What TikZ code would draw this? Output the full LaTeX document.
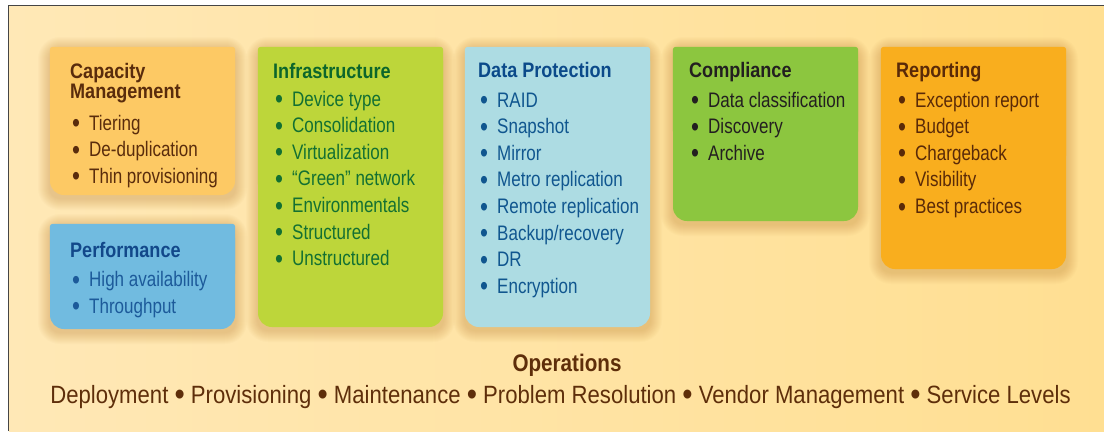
\documentclass[tikz,border=0pt]{standalone}
\usepackage{fontspec}
\usetikzlibrary{calc}
\newfontfamily\itemfont{Liberation Sans}[FakeStretch=0.81]
\newfontfamily\headfont{Liberation Sans}[FakeStretch=0.86]
\newfontfamily\opsfont{Liberation Sans}[FakeStretch=0.885]

% panel fills
\definecolor{capF}{HTML}{FDC964}
\definecolor{perfF}{HTML}{71BBE0}
\definecolor{infF}{HTML}{BDD63A}
\definecolor{dpF}{HTML}{ADDCE3}
\definecolor{compF}{HTML}{8CC63F}
\definecolor{repF}{HTML}{F9AE1E}
% panel texts
\definecolor{capT}{HTML}{5A2C0C}
\definecolor{perfH}{HTML}{12488A}
\definecolor{perfT}{HTML}{1C5A9A}
\definecolor{infH}{HTML}{0C662B}
\definecolor{infT}{HTML}{137032}
\definecolor{dpH}{HTML}{0B4A8A}
\definecolor{dpT}{HTML}{10568F}
\definecolor{compT}{HTML}{231F20}
\definecolor{repT}{HTML}{5A2A08}
\definecolor{opsT}{HTML}{5E2E0A}
% background
\definecolor{bgL}{HTML}{FFE8B6}
\definecolor{bgM}{HTML}{FEF3DA}
\definecolor{bgR}{HTML}{FFDF92}
\definecolor{glowc}{HTML}{C8883A}
\definecolor{framec}{HTML}{454545}

% list bullet: a larger dot, lowered onto the x-height
\newcommand\blt{\makebox[17bp][l]{\raisebox{-2.6bp}{\fontsize{28bp}{24bp}\selectfont•}}}
\newcommand\sep{\ \raisebox{-2.6bp}{\fontsize{33bp}{28bp}\selectfont•}\ }

% glow, rounded panel, squarer top half
\newcommand\panel[6]{%
  \foreach \k in {1,...,12}{%
    \fill[glowc, opacity=0.033, rounded corners={(10+\k)*1bp}]
      ({#2-\k},{#3-\k+2}) rectangle ({#4+\k},{#5+\k+3});}
  \node[panelbox, fill=#6, minimum width={(#4-#2)*1bp}, minimum height={(#5-#3)*1bp}]
    (#1) at ({(#2+#4)/2},{(#3+#5)/2}) {};
  \fill[#6, rounded corners=3bp] (#1.north west) rectangle (#1.east);
}

\begin{document}
\begin{tikzpicture}[x=1bp, y=-1bp,
  panelbox/.style={draw=none, rounded corners=14bp, inner sep=0pt},
  head/.style={anchor=base west, inner sep=0pt, font=\headfont\bfseries\fontsize{21bp}{24bp}\selectfont},
  item/.style={anchor=base west, inner sep=0pt, font=\itemfont\fontsize{21bp}{24bp}\selectfont},
  frame/.style={draw=framec, line width=1.5bp}]
\useasboundingbox (0,0) rectangle (1104,431);

% backdrop and frame
\shade[left color=bgL, middle color=bgM, right color=bgR] (9,6) rectangle (1104,431);
\draw[frame] (8.5,431) -- (8.5,5.5) -- (1104,5.5);

% panels
\panel{cap}{50}{47}{235}{195}{capF}
\panel{perf}{50}{224}{235}{329}{perfF}
\panel{inf}{258}{47}{443}{327}{infF}
\panel{dp}{465}{47}{650}{327}{dpF}
\panel{comp}{673}{47}{858}{221}{compF}
\panel{rep}{881}{47}{1066}{269}{repF}

% Capacity Management
\node[head, text=capT] (cap-h1) at (70,78) {Capacity};
\node[head, text=capT] (cap-h2) at (70,98) {Management};
\foreach \t [count=\i] in {Tiering, De-duplication, Thin provisioning}
  \node[item, text=capT] (cap-\i) at (72,{130+26.5*(\i-1)}) {\blt\t};

% Performance
\node[head, text=perfH] (perf-h) at (70,257) {Performance};
\foreach \t [count=\i] in {High availability, Throughput}
  \node[item, text=perfT] (perf-\i) at (72,{286.5+26.5*(\i-1)}) {\blt\t};

% Infrastructure
\node[head, text=infH] (inf-h) at (273,78) {Infrastructure};
\foreach \t [count=\i] in {Device type, Consolidation, Virtualization, “Green” network,
    Environmentals, Structured, Unstructured}
  \node[item, text=infT] (inf-\i) at (275,{106+26.6*(\i-1)}) {\blt\t};

% Data Protection
\node[head, text=dpH] (dp-h) at (478,77) {Data Protection};
\foreach \t [count=\i] in {RAID, Snapshot, Mirror, Metro replication, Remote replication,
    Backup/recovery, DR, Encryption}
  \node[item, text=dpT] (dp-\i) at (480,{107+26.6*(\i-1)}) {\blt\t};

% Compliance
\node[head, text=compT] (comp-h) at (689,77) {Compliance};
\foreach \t [count=\i] in {Data classification, Discovery, Archive}
  \node[item, text=compT] (comp-\i) at (691,{107+26.6*(\i-1)}) {\blt\t};

% Reporting
\node[head, text=repT] (rep-h) at (896,77) {Reporting};
\foreach \t [count=\i] in {Exception report, Budget, Chargeback, Visibility, Best practices}
  \node[item, text=repT] (rep-\i) at (898,{107+26.6*(\i-1)}) {\blt\t};

% Operations
\node[anchor=base, inner sep=0pt, text=opsT, font=\headfont\bfseries\fontsize{24bp}{26bp}\selectfont]
  (ops-h) at (567,371) {Operations};
\node[anchor=base, inner sep=0pt, text=opsT, font=\opsfont\fontsize{25bp}{28bp}\selectfont]
  (ops-list) at (560.5,403)
  {Deployment\sep Provisioning\sep Maintenance\sep Problem Resolution\sep Vendor Management\sep Service Levels};
\end{tikzpicture}
\end{document}
